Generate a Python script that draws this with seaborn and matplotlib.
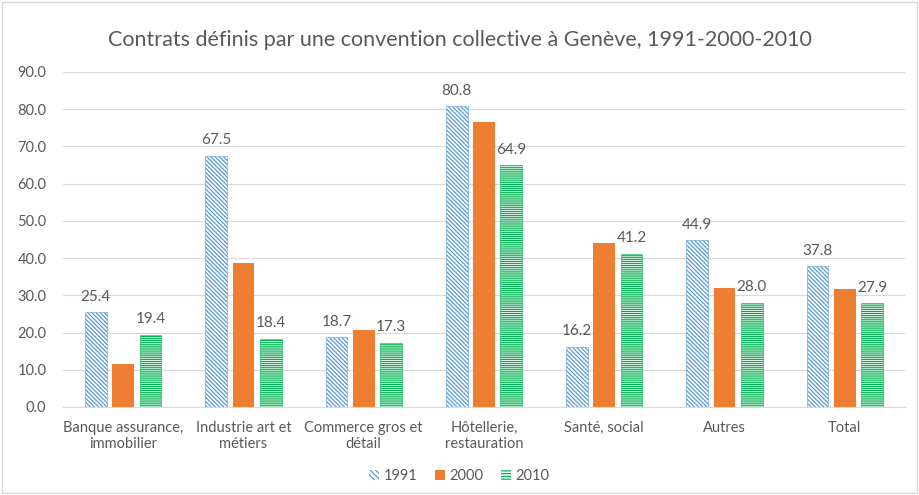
import numpy as np
import pandas as pd
import matplotlib
matplotlib.use("Agg")
import matplotlib.pyplot as plt
from matplotlib.patches import Patch, Rectangle
import seaborn as sns

# Data
categories = ["Banque assurance,\nimmobilier", "Industrie art et\nmétiers", "Commerce gros et\ndétail",
              "Hôtellerie,\nrestauration", "Santé, social", "Autres", "Total"]
years = ["1991", "2000", "2010"]
values_1991 = [25.4, 67.5, 18.7, 80.8, 16.2, 44.9, 37.8]
values_2000 = [11.6, 38.7, 20.7, 76.5, 44.0, 32.0, 31.8]
values_2010 = [19.4, 18.4, 17.3, 64.9, 41.2, 28.0, 27.9]

df = pd.DataFrame({
    "categorie": categories * 3,
    "annee": [years[0]] * 7 + [years[1]] * 7 + [years[2]] * 7,
    "valeur": values_1991 + values_2000 + values_2010,
})

sns.set_style("white")
plt.rcParams["font.family"] = ["Lato", "DejaVu Sans"]
plt.rcParams["hatch.linewidth"] = 0.9

blue = "#5B9BD5"
orange = "#ED7D31"
green = "#00B050"
text_gray = "#595959"

fig = plt.figure(figsize=(9.19, 4.95), dpi=100)
ax = fig.add_axes([63 / 919, 1 - 407 / 495, 842 / 919, 335 / 495])

sns.barplot(data=df, x="categorie", y="valeur", hue="annee", hue_order=years,
            palette=[blue, orange, green], width=0.68, gap=0.2, ax=ax, legend=False)

styles = [
    dict(facecolor="white", edgecolor=blue, hatch="\\" * 8, linewidth=0.4),
    dict(facecolor=orange, edgecolor=orange, hatch=None, linewidth=0),
    dict(facecolor="white", edgecolor=green, hatch="-" * 8, linewidth=0.4),
]
for cont, st in zip(ax.containers, styles):
    for bar in cont:
        bar.set_facecolor(st["facecolor"])
        bar.set_edgecolor(st["edgecolor"])
        bar.set_linewidth(st["linewidth"])
        if st["hatch"]:
            bar.set_hatch(st["hatch"])

# data labels only for 1991 and 2010
for i in (0, 2):
    ax.bar_label(ax.containers[i], fmt="%.1f", padding=6, fontsize=11, color=text_gray)

ax.set_ylim(0, 90)
ax.set_yticks(np.arange(0, 91, 10))
ax.set_yticklabels([f"{v:.1f}" for v in np.arange(0, 91, 10)], fontsize=10.5, color=text_gray)
ax.set_xlabel("")
ax.set_ylabel("")
ax.tick_params(axis="x", labelsize=10.5, colors=text_gray, length=0, pad=10)
ax.tick_params(axis="y", length=0, pad=12)
ax.grid(axis="y", color="#D9D9D9", linewidth=0.8)
ax.set_axisbelow(True)
for s in ["top", "right", "left"]:
    ax.spines[s].set_visible(False)
ax.spines["bottom"].set_color("#D9D9D9")

fig.text(0.5, 1 - 40 / 495, "Contrats définis par une convention collective à Genève, 1991-2000-2010",
         ha="center", va="center", fontsize=15.5, color=text_gray)

handles = [Patch(facecolor="white", edgecolor=blue, hatch="\\" * 6, linewidth=0),
           Patch(facecolor=orange, edgecolor=orange, linewidth=0),
           Patch(facecolor="white", edgecolor=green, hatch="-" * 6, linewidth=0)]
fig.legend(handles, years, loc="center", bbox_to_anchor=(0.5, 1 - 476 / 495), ncol=3,
           frameon=False, fontsize=10.5, labelcolor=text_gray, handlelength=0.7, handleheight=0.7,
           columnspacing=1.2, handletextpad=0.3)

fig.patches.append(Rectangle((2 / 919, 2 / 495), 1 - 4 / 919, 1 - 4 / 495, transform=fig.transFigure,
                             fill=False, edgecolor="#D9D9D9", linewidth=1))

fig.savefig("out.png", dpi=100)
